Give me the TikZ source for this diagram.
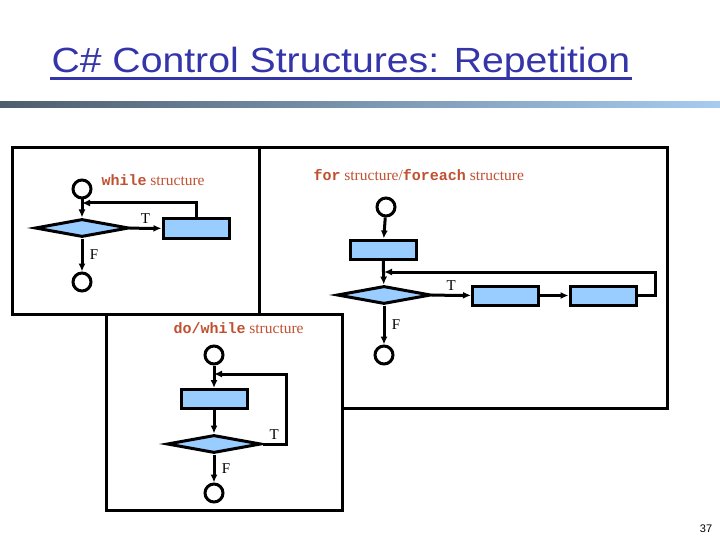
\documentclass[tikz,border=0pt]{standalone}
\usepackage{fontspec}
\setmainfont{Liberation Serif}
\setsansfont{Liberation Sans}
\setmonofont{Liberation Mono}
\usepackage{xcolor}
\usetikzlibrary{shapes,arrows.meta,positioning}

\definecolor{titleblue}{RGB}{53,53,170}
\definecolor{boxblue}{RGB}{153,204,255}
\definecolor{rust}{RGB}{192,80,48}
\definecolor{barleft}{RGB}{78,94,110}
\definecolor{barright}{RGB}{166,204,240}

\newcommand{\kw}[1]{{\ttfamily\bfseries\fontsize{15}{15}\selectfont #1}}

\begin{document}
\begin{tikzpicture}[x=1pt,y=-1pt,
    line width=3pt,
    >={Latex[length=8pt,width=7pt]},
    term/.style={circle,draw,line width=3pt,minimum size=18pt,inner sep=0pt},
    act/.style={rectangle,draw,fill=boxblue,line width=3pt,minimum width=66pt,minimum height=19pt,inner sep=0pt},
    test/.style={diamond,draw,fill=boxblue,line width=3pt,minimum width=94pt,minimum height=18pt,inner sep=0pt},
    flow/.style={->,line width=3pt},
    lbl/.style={font=\fontsize{15}{15}\selectfont},
    heading/.style={text=rust,font=\fontsize{15.5}{15.5}\selectfont,inner sep=0pt}]

    \useasboundingbox (0,0) rectangle (720,540);

    % title and bar
    \node[anchor=base west,inner sep=0pt,text=titleblue,
        font=\sffamily\fontsize{35}{36}\selectfont] (title) at (50,73)
        {\scalebox{1.12}[1]{C\# Control Structures: Repetition}};
    \draw[titleblue,line width=2.5pt] ([yshift=-5.5pt]title.base west) -- ([yshift=-5.5pt]title.base east);
    \shade[left color=barleft,right color=barright] (0,102) rectangle (720,108);

    % frames
    \draw[fill=white] (259,148) rectangle (667,408);
    \draw (12,148) rectangle (259,314);
    \draw[fill=white] (106,314) rectangle (342,510);

    % while structure
    \node[heading,anchor=west] (wCap) at (100,180) {\kw{while} structure};
    \node[term] (wStart) at (82,189) {};
    \node[test] (wTest) at (82,228) {};
    \node[act] (wBody) at (196,228.5) {};
    \node[term] (wEnd) at (82,282) {};
    \coordinate (wJoin) at (82,203);
    \draw[flow] (wStart) -- (wTest);
    \draw[flow] (wTest) -- node[lbl,above] {T} (wBody);
    \draw[flow] (wBody.north) |- (wJoin);
    \draw[flow] (wTest) -- node[lbl,right=3pt] {F} (wEnd);

    % for structure
    \node[heading,anchor=west] (fCap) at (312,175) {\kw{for} structure/\kw{foreach} structure};
    \node[term] (fStart) at (386,207) {};
    \node[act] (fInit) at (383,249.5) {};
    \node[test] (fTest) at (384,295) {};
    \node[act] (fBody) at (505.5,295.5) {};
    \node[act] (fIncr) at (603,295.5) {};
    \node[term] (fEnd) at (384,355) {};
    \coordinate (fTurn) at (655,272);
    \coordinate (fJoin) at (384,272);
    \draw[flow] (fStart) -- (fInit);
    \draw[flow] (fInit) -- (fTest);
    \draw[flow] (fTest) -- node[lbl,above] {T} (fBody);
    \draw[flow] (fBody) -- (fIncr);
    \draw[flow] (fIncr.east) -| (fTurn) -- (fJoin);
    \draw[flow] (fTest) -- node[lbl,right=3pt] {F} (fEnd);

    % do/while structure
    \node[heading,anchor=west] (dCap) at (172,328) {\kw{do/while} structure};
    \node[term] (dStart) at (214,355) {};
    \node[act] (dBody) at (214,399) {};
    \node[test] (dTest) at (214,444) {};
    \node[term] (dEnd) at (214,493) {};
    \coordinate (dTurn) at (286,374);
    \coordinate (dJoin) at (214,374);
    \draw[flow] (dStart) -- (dBody);
    \draw[flow] (dBody) -- (dTest);
    \draw[flow] (dTest.east) -| node[lbl,pos=0.25,above] {T} (dTurn) -- (dJoin);
    \draw[flow] (dTest) -- node[lbl,right=3pt] {F} (dEnd);

    % page number
    \node[font=\sffamily\fontsize{11}{11}\selectfont] (pageNo) at (706,529) {37};
\end{tikzpicture}
\end{document}
